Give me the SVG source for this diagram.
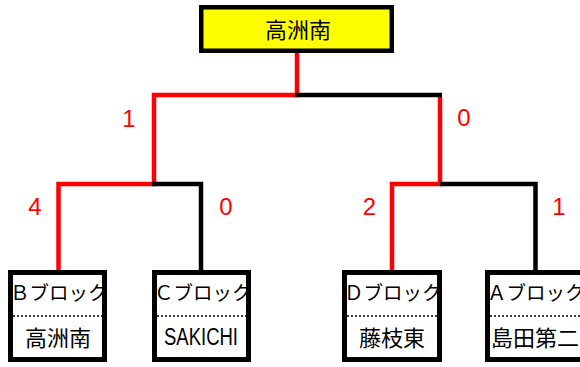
<svg xmlns="http://www.w3.org/2000/svg" width="580" height="367" viewBox="0 0 580 367">
<style>
.box{fill:#fff;stroke:#000;stroke-width:5}
.top{fill:#ffff00;stroke:#000;stroke-width:4.5}
.win{fill:none;stroke:#ff0000;stroke-width:4.5;stroke-linejoin:miter}
.lose{fill:none;stroke:#000;stroke-width:4.5;stroke-linejoin:miter}
.name{font-family:"Noto Sans CJK JP","Liberation Sans",sans-serif;font-size:22px;fill:#000;text-anchor:middle}
.blk{font-family:"Noto Sans CJK JP","Liberation Sans",sans-serif;font-size:19.5px;fill:#000}
.score{font-family:"Liberation Sans",sans-serif;font-size:24px;fill:#ff0000;text-anchor:middle}
.dot{stroke:#000;stroke-width:1.5;stroke-dasharray:2,2}
</style>
<defs>
<clipPath id="cB"><rect x="13" y="275" width="89" height="82"/></clipPath>
<clipPath id="cC"><rect x="157" y="275" width="89" height="82"/></clipPath>
<clipPath id="cD"><rect x="347" y="275" width="90" height="82"/></clipPath>
<clipPath id="cA"><rect x="490" y="275" width="90" height="82"/></clipPath>
</defs>
<rect width="580" height="367" fill="#fff"/>
<g id="connectors">
<path class="win" d="M297,53 V95 H154 V184 H58.5 V270"/>
<path class="win" d="M440,97 V184 H392 V270"/>
<path class="lose" d="M295,95 H442"/>
<path class="lose" d="M152,184 H201 V270"/>
<path class="lose" d="M440,184 H535.5 V270"/>
<text class="score" x="129" y="127">1</text>
<text class="score" x="464" y="126">0</text>
<text class="score" x="35" y="215">4</text>
<text class="score" x="226" y="215">0</text>
<text class="score" x="369.5" y="215">2</text>
<text class="score" x="559" y="215">1</text>
</g>
<g id="champion">
<rect class="top" x="201.25" y="7.25" width="190.5" height="43.5"/>
<text class="name" x="298" y="38">高洲南</text>
</g>
<g id="blockB">
<rect class="box" x="10.5" y="272.5" width="94" height="87"/>
<text class="blk" x="10" y="300" clip-path="url(#cB)">Ｂブロック</text>
<line class="dot" x1="13" y1="316" x2="102" y2="316"/>
<text class="name" x="58" y="346">高洲南</text>
</g>
<g id="blockC">
<rect class="box" x="154.5" y="272.5" width="94" height="87"/>
<text class="blk" x="154" y="300" clip-path="url(#cC)">Ｃブロック</text>
<line class="dot" x1="157" y1="316" x2="246" y2="316"/>
<text class="name" x="201" y="345" style="font-family:'Liberation Sans',sans-serif;font-size:23px" textLength="74" lengthAdjust="spacingAndGlyphs">SAKICHI</text>
</g>
<g id="blockD">
<rect class="box" x="344.5" y="272.5" width="95" height="87"/>
<text class="blk" x="344" y="300" clip-path="url(#cD)">Ｄブロック</text>
<line class="dot" x1="347" y1="316" x2="437" y2="316"/>
<text class="name" x="392" y="346">藤枝東</text>
</g>
<g id="blockA">
<rect class="box" x="487.5" y="272.5" width="95" height="87"/>
<text class="blk" x="487" y="300" clip-path="url(#cA)">Ａブロック</text>
<line class="dot" x1="490" y1="316" x2="580" y2="316"/>
<text class="name" x="535" y="346">島田第二</text>
</g>
</svg>
